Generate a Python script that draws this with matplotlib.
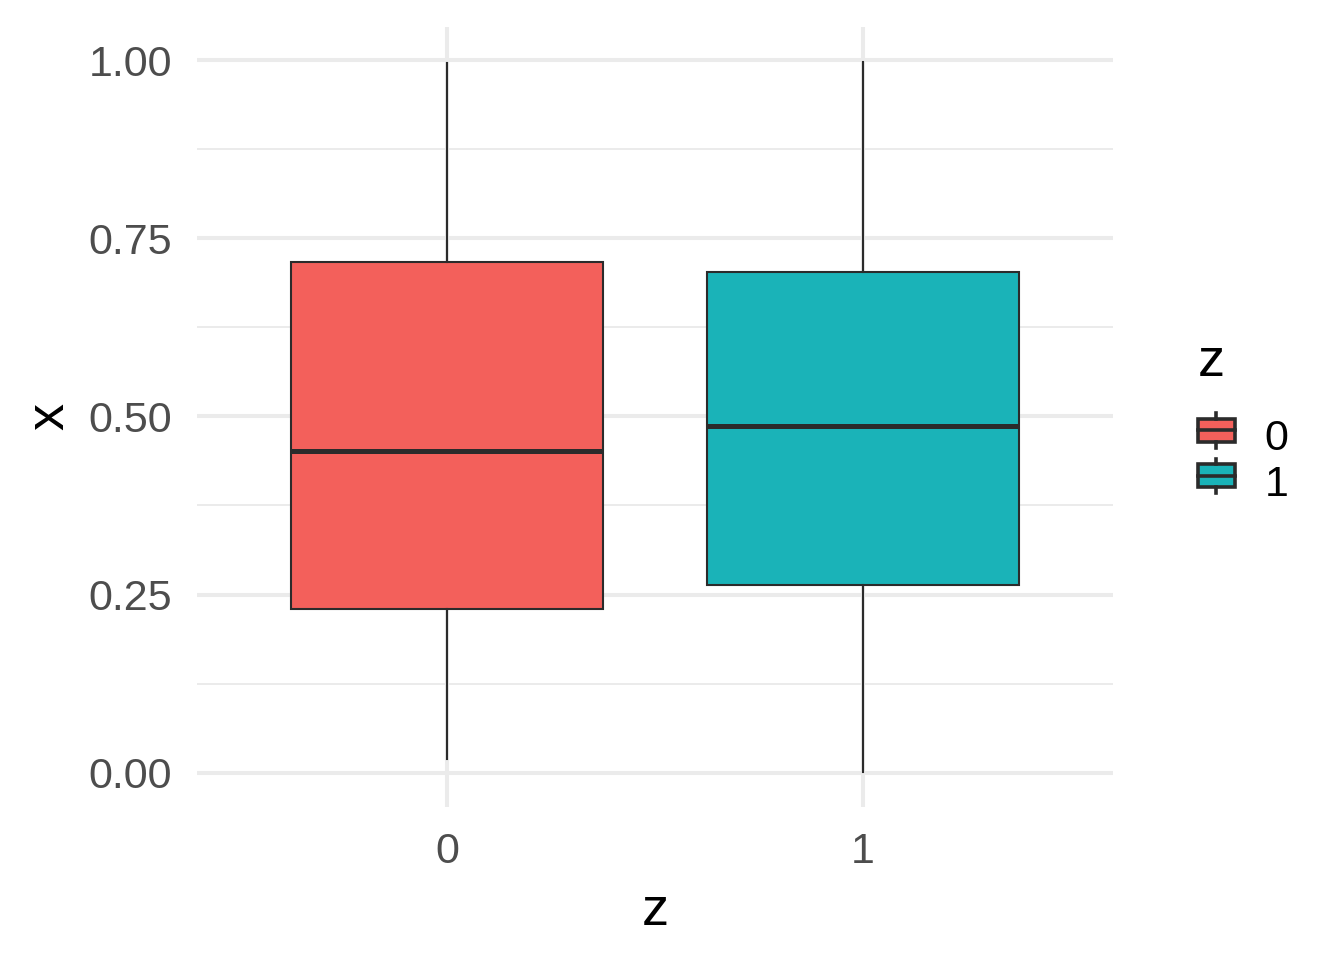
import matplotlib
matplotlib.use("Agg")
import matplotlib.pyplot as plt
from matplotlib.patches import Rectangle
from matplotlib.lines import Line2D
from matplotlib.legend_handler import HandlerBase

plt.rcParams["font.family"] = ["Liberation Sans", "DejaVu Sans"]

groups = ["0", "1"]
fills = ["#F3605B", "#1AB3B8"]
whislo = [0.020, 0.0014]
q1 = [0.230, 0.264]
med = [0.452, 0.486]
q3 = [0.717, 0.703]
whishi = [0.996, 0.997]

edge = "#2B2B2B"


class BoxKey(HandlerBase):
    def create_artists(self, legend, orig, xd, yd, w, h, fs, trans):
        box = Rectangle((xd, yd + 0.17 * h), w, 0.66 * h, facecolor=orig.get_facecolor(),
                        edgecolor=edge, lw=1.3, transform=trans)
        m = Line2D([xd, xd + w], [yd + 0.5 * h] * 2, color=edge, lw=1.3, transform=trans)
        wt = Line2D([xd + w / 2] * 2, [yd + 0.83 * h, yd + h], color=edge, lw=1.3, transform=trans)
        wb = Line2D([xd + w / 2] * 2, [yd, yd + 0.17 * h], color=edge, lw=1.3, transform=trans)
        return [box, m, wt, wb]


fig = plt.figure(figsize=(6.72, 4.8), dpi=200)
ax = fig.add_axes([197 / 1344, 1 - 807 / 960, (1113 - 197) / 1344, (807 - 26.5) / 960])

stats = []
for i in range(len(groups)):
    stats.append(dict(whislo=whislo[i], q1=q1[i], med=med[i], q3=q3[i], whishi=whishi[i], fliers=[]))

bp = ax.bxp(stats, positions=range(len(groups)), widths=0.75, showcaps=False,
            showfliers=False, patch_artist=True,
            boxprops=dict(edgecolor=edge, linewidth=0.75),
            whiskerprops=dict(color=edge, linewidth=0.75),
            medianprops=dict(color=edge, linewidth=1.8), zorder=3)
for patch, c in zip(bp["boxes"], fills):
    patch.set_facecolor(c)

ax.set_xlim(-0.6, 1.6)
ax.set_ylim(-0.048, 1.047)
ax.set_xticks(range(len(groups)))
ax.set_xticklabels(groups)
ax.set_yticks([0, 0.25, 0.5, 0.75, 1.0])
ax.set_yticklabels(["0.00", "0.25", "0.50", "0.75", "1.00"])
ax.set_yticks([0.125, 0.375, 0.625, 0.875], minor=True)
ax.tick_params(axis="both", which="both", length=0, pad=9, labelsize=15.5, labelcolor="#4D4D4D")
ax.grid(True, which="major", color="#EBEBEB", linewidth=1.45, zorder=0)
ax.grid(True, which="minor", axis="y", color="#EBEBEB", linewidth=0.72, zorder=0)
ax.set_axisbelow(True)
for sp in ax.spines.values():
    sp.set_visible(False)

ax.set_xlabel("z", fontsize=19.5, labelpad=5)
ax.set_ylabel("x", fontsize=19.5, labelpad=5)

handles = [Rectangle((0, 0), 1, 1, facecolor=c) for c in fills]
leg = fig.legend(handles, groups, title="z", handler_map={Rectangle: BoxKey()},
                 loc="center left", bbox_to_anchor=(1176 / 1344, 1 - 421 / 960),
                 frameon=False, fontsize=15.5, title_fontsize=19.5, alignment="left",
                 handlelength=0.86, handleheight=0.86, labelspacing=0.1, handletextpad=0.7,
                 borderpad=0)
leg._legend_box.sep = 11

fig.savefig("out.png", dpi=200)
